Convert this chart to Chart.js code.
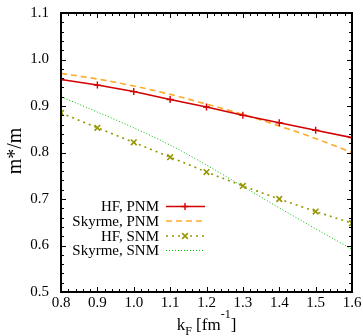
<!DOCTYPE html>
<html lang="en">
<head>
<meta charset="UTF-8">
<title>m*/m vs kF</title>
<script src="https://cdn.jsdelivr.net/npm/chart.js"></script>
<style>
  body { margin: 0; background: #fff; }
  #wrap { width: 363px; height: 336px; }
</style>
</head>
<body>
<div id="wrap"><canvas id="chart" width="363" height="336"></canvas></div>
<script>
// k_F values (fm^-1)
const kF = [0.8, 0.9, 1.0, 1.1, 1.2, 1.3, 1.4, 1.5, 1.6];
const hfPNM = [0.957, 0.945, 0.931, 0.914, 0.898, 0.880, 0.864, 0.848, 0.832];
const skyrmePNM = [0.970, 0.958, 0.943, 0.925, 0.904, 0.882, 0.857, 0.830, 0.800];
const hfSNM = [0.885, 0.853, 0.822, 0.790, 0.758, 0.728, 0.700, 0.673, 0.648];
const skyrmeSNM = [0.920, 0.887, 0.853, 0.816, 0.773, 0.727, 0.681, 0.636, 0.592];
const xTicks = [0.8, 0.9, 1.0, 1.1, 1.2, 1.3, 1.4, 1.5, 1.6];
const yTicks = [0.5, 0.6, 0.7, 0.8, 0.9, 1.0, 1.1];
const labels = ['HF, PNM', 'Skyrme, PNM', 'HF, SNM', 'Skyrme, SNM'];

const FONT = '"Liberation Serif", "Times New Roman", serif';

function pts(ys) {
  return kF.map((x, i) => ({ x: x, y: ys[i] }));
}

// legend marker, same shapes as the chart's pointStyle
function marker(ctx, style, x, y, r) {
  ctx.beginPath();
  if (style === 'crossRot') {
    const d = r * Math.SQRT1_2;
    ctx.moveTo(x - d, y - d); ctx.lineTo(x + d, y + d);
    ctx.moveTo(x - d, y + d); ctx.lineTo(x + d, y - d);
  } else {
    ctx.moveTo(x - r, y); ctx.lineTo(x + r, y);
    ctx.moveTo(x, y - r); ctx.lineTo(x, y + r);
  }
  ctx.stroke();
}

// gnuplot-like frame: box, inward major/minor ticks, legend, axis titles
const frame = {
  id: 'gpframe',
  afterDraw(chart) {
    const ctx = chart.ctx;
    const a = chart.chartArea;
    const xs = chart.scales.x, ys = chart.scales.y;
    ctx.save();
    ctx.setLineDash([]);
    ctx.globalAlpha = 1;
    ctx.fillStyle = '#000';
    const L = Math.round(a.left), R = Math.round(a.right);
    const T = Math.round(a.top), B = Math.round(a.bottom);
    ctx.fillRect(L - 1, T - 1, R - L + 2, 2);
    ctx.fillRect(L - 1, B - 1, R - L + 2, 2);
    ctx.fillRect(L - 1, T - 1, 2, B - T + 2);
    ctx.fillRect(R - 1, T - 1, 2, B - T + 2);
    for (let i = 0; i <= 40; i++) {
      const v = 0.8 + i * 0.02;
      const len = i % 5 === 0 ? 5 : 3;
      const px = Math.round(xs.getPixelForValue(v));
      ctx.fillRect(px, B - len, 1, len);
      ctx.fillRect(px, T, 1, len);
    }
    for (let i = 0; i <= 30; i++) {
      const v = 0.5 + i * 0.02;
      const len = i % 5 === 0 ? 5 : 3;
      const py = Math.round(ys.getPixelForValue(v));
      ctx.fillRect(L, py, len, 1);
      ctx.fillRect(R - len, py, len, 1);
    }

    // legend (text right-aligned, sample to the right)
    ctx.font = '15px ' + FONT;
    ctx.textAlign = 'right';
    ctx.textBaseline = 'middle';
    const rows = [206.5, 221, 236, 250.5];
    chart.data.datasets.forEach((ds, i) => {
      const y = rows[i];
      ctx.fillStyle = '#000';
      ctx.fillText(ds.label, 159, y + 1);
      ctx.strokeStyle = ds.borderColor;
      ctx.lineWidth = ds.borderWidth;
      ctx.setLineDash(ds.borderDash || []);
      ctx.beginPath();
      ctx.moveTo(166, y); ctx.lineTo(205, y);
      ctx.stroke();
      ctx.setLineDash([]);
      if (ds.pointRadius > 0) {
        ctx.lineWidth = ds.pointBorderWidth;
        marker(ctx, ds.pointStyle, 185, y, ds.pointRadius);
      }
    });

    // y title
    ctx.fillStyle = '#000';
    ctx.save();
    ctx.font = '20px ' + FONT;
    ctx.textAlign = 'center';
    ctx.textBaseline = 'middle';
    ctx.translate(16, 151);
    ctx.rotate(-Math.PI / 2);
    ctx.fillText('m*/m', 0, 0);
    ctx.restore();

    // x title: k_F [fm^-1]
    const big = '17px ' + FONT, small = '12px ' + FONT;
    const parts = [
      { t: 'k', f: big, dy: 0 },
      { t: 'F', f: small, dy: 5 },
      { t: ' [fm', f: big, dy: 0 },
      { t: '-1', f: small, dy: -12 },
      { t: ']', f: big, dy: 0 }
    ];
    let w = 0;
    parts.forEach(p => { ctx.font = p.f; p.w = ctx.measureText(p.t).width; w += p.w; });
    let x = (a.left + a.right) / 2 - w / 2;
    ctx.textAlign = 'left';
    ctx.textBaseline = 'alphabetic';
    parts.forEach(p => {
      ctx.font = p.f;
      ctx.fillText(p.t, x, 330 + p.dy);
      x += p.w;
    });
    ctx.restore();
  }
};

new Chart(document.getElementById('chart'), {
  type: 'line',
  data: {
    datasets: [
      {
        label: labels[0], data: pts(hfPNM),
        borderColor: 'rgb(210,0,0)', backgroundColor: 'rgb(210,0,0)',
        borderWidth: 1.6, pointStyle: 'cross', pointRadius: 3.5,
        pointBorderWidth: 1.4, tension: 0
      },
      {
        label: labels[1], data: pts(skyrmePNM),
        borderColor: 'rgb(255,170,40)', backgroundColor: 'rgb(255,170,40)',
        borderWidth: 1.6, borderDash: [6, 4], pointRadius: 0,
        cubicInterpolationMode: 'monotone'
      },
      {
        label: labels[2], data: pts(hfSNM),
        borderColor: 'rgb(150,150,0)', backgroundColor: 'rgb(150,150,0)',
        borderWidth: 1.6, borderDash: [2, 4], pointStyle: 'crossRot', pointRadius: 4,
        pointBorderWidth: 1.6, tension: 0
      },
      {
        label: labels[3], data: pts(skyrmeSNM),
        borderColor: 'rgb(0,190,0)', backgroundColor: 'rgb(0,190,0)',
        borderWidth: 1, borderDash: [1, 2], pointRadius: 0,
        cubicInterpolationMode: 'monotone'
      }
    ]
  },
  options: {
    responsive: false,
    animation: false,
    layout: { padding: { top: 13, right: 11, left: 0, bottom: 0 } },
    plugins: { legend: { display: false }, tooltip: { enabled: false } },
    scales: {
      x: {
        type: 'linear', min: 0.8, max: 1.6,
        afterBuildTicks: s => { s.ticks = xTicks.map(v => ({ value: v })); },
        afterFit: s => { s.height = 44; s.paddingLeft = 0; s.paddingRight = 0; },
        grid: { display: false, drawTicks: false },
        border: { display: false },
        ticks: {
          color: '#000', padding: 2, maxRotation: 0,
          font: { family: FONT, size: 15 },
          callback: v => v.toFixed(1)
        }
      },
      y: {
        type: 'linear', min: 0.5, max: 1.1,
        afterBuildTicks: s => { s.ticks = yTicks.map(v => ({ value: v })); },
        afterFit: s => { s.width = 61; s.paddingTop = 0; s.paddingBottom = 0; },
        grid: { display: false, drawTicks: false },
        border: { display: false },
        ticks: {
          color: '#000', padding: 12,
          font: { family: FONT, size: 15 },
          callback: v => v.toFixed(1)
        }
      }
    }
  },
  plugins: [frame]
});
</script>
</body>
</html>
